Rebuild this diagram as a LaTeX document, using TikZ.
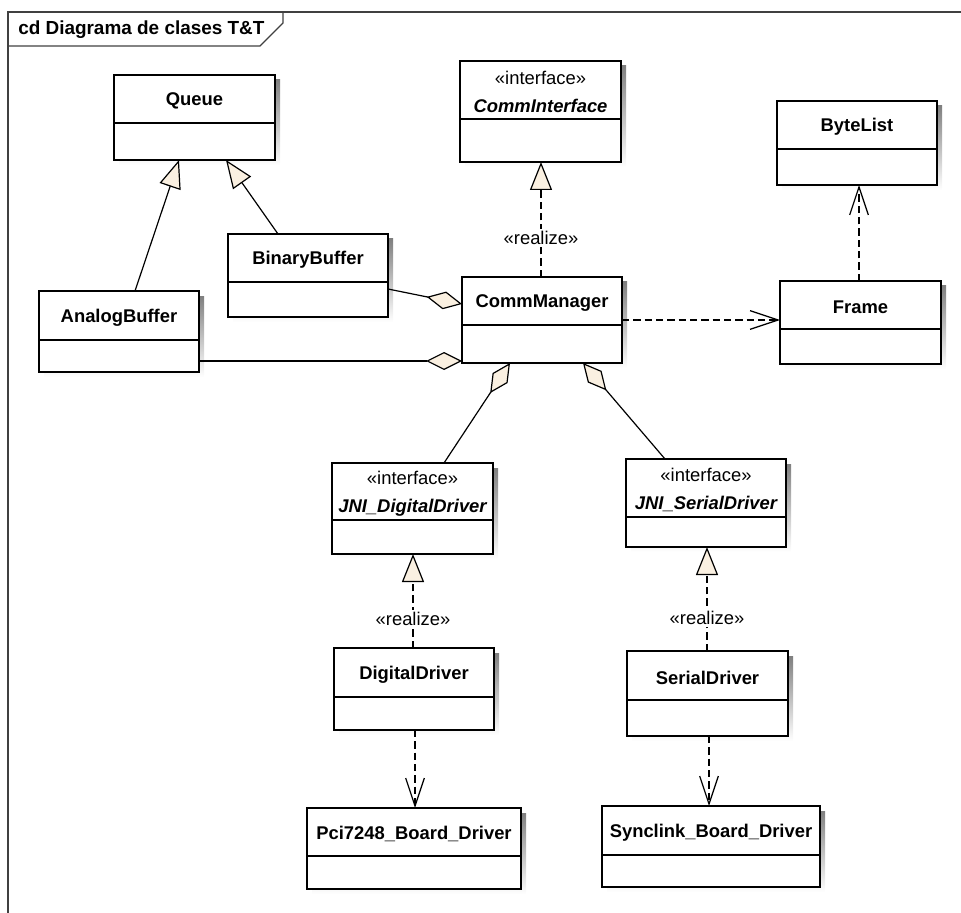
\documentclass[tikz,border=0pt]{standalone}
\usepackage{fontspec}
\setmainfont{Liberation Sans}
\usetikzlibrary{arrows.meta,fit}

\definecolor{tipfill}{HTML}{FAF0E1}
\definecolor{shade}{HTML}{C4C4C4}
\definecolor{framecol}{HTML}{404040}

\tikzset{
  classbox/.style={draw, line width=1.2pt, fill=white, inner sep=0pt, outer sep=0pt},
  classname/.style={font=\fontsize{13.8}{21}\selectfont\bfseries, inner sep=0pt, align=center},
  stereolbl/.style={font=\fontsize{13.8}{16}\selectfont, fill=white, inner sep=1.5pt},
  link/.style={line width=0.9pt},
  dashlink/.style={link, dash pattern=on 5.5pt off 3pt},
  gen/.style={link, -{Triangle[length=21pt, width=16.5pt, fill=tipfill, line width=0.9pt]}},
  realiz/.style={dashlink, -{Triangle[length=21pt, width=16.5pt, fill=tipfill, line width=0.9pt]}},
  depend/.style={dashlink, -{Straight Barb[length=21pt, width=14pt, line width=0.9pt]}},
  aggr/.style={link, {Diamond[length=27pt, width=13.5pt, fill=tipfill, line width=0.9pt]}-},
}

% #1 name, #2 x1, #3 y1, #4 x2, #5 y2, #6 y of the compartment line, #7 header text
\newcommand\umlclass[7]{%
  \fill[shade] (#2+5,#3+5) rectangle (#4+5,#5+5);
  \node[classbox, fit={(#2,#3) (#4,#5)}] (#1) {};
  \draw[line width=1.2pt] (#1.west |- 0,#6) -- (#1.east |- 0,#6);
  \node[classname] (#1-name) at ({(#2+#4)/2},{(#3+#6)/2+2}) {#7};
}
\newcommand\ifacetext[1]{{\mdseries «interface»}\\{\itshape #1}}

\begin{document}
\begin{tikzpicture}[x=0.75pt, y=-0.75pt]
  \useasboundingbox (0,0) rectangle (961,913);

  % diagram frame with its name tab
  \draw[framecol, line width=1pt] (8,913) -- (8,12) -- (961,12);
  \draw[framecol, line width=1pt] (8,46) -- (260,46) -- (283,23) -- (283,12);
  \node[font=\fontsize{14.2}{16}\selectfont\bfseries, anchor=west, inner sep=0pt] (title) at (18,30) {cd Diagrama de clases T\&T};

  % classes
  \umlclass{queue}{114}{75}{275}{160}{123}{Queue}
  \umlclass{binary}{228}{234}{388}{317}{282}{BinaryBuffer}
  \umlclass{analog}{39}{291}{199}{372}{340}{AnalogBuffer}
  \umlclass{commif}{460}{61}{621}{162}{119}{\ifacetext{CommInterface}}
  \umlclass{bytelist}{777}{101}{937}{185}{149}{ByteList}
  \umlclass{manager}{462}{277}{622}{363}{325}{CommManager}
  \umlclass{frame}{780}{281}{941}{364}{329}{Frame}
  \umlclass{jnidig}{332}{463}{493}{554}{520}{\ifacetext{JNI\_DigitalDriver}}
  \umlclass{jniser}{626}{459}{786}{547}{517}{\ifacetext{JNI\_SerialDriver}}
  \umlclass{digital}{334}{648}{494}{730}{697}{DigitalDriver}
  \umlclass{serial}{627}{651}{788}{736}{700}{SerialDriver}
  \umlclass{pci}{307}{808}{521}{889}{856}{Pci7248\_Board\_Driver}
  \umlclass{synclink}{602}{806}{820}{887}{855}{Synclink\_Board\_Driver}

  % generalizations
  \draw[gen] (135,0 |- analog.north) -- (179,0 |- queue.south);
  \draw[gen] (278,0 |- binary.north) -- (226,0 |- queue.south);

  % aggregations
  \draw[aggr] (manager.west |- 0,304) -- (binary.east |- 0,289);
  \draw[aggr] (manager.west |- 0,361) -- (analog.east |- 0,361);
  \draw[aggr] (510,0 |- manager.south) -- (444,0 |- jnidig.north);
  \draw[aggr] (583,0 |- manager.south) -- (665,0 |- jniser.north);

  % realizations
  \draw[realiz] (541,0 |- manager.north) -- (541,0 |- commif.south);
  \node[stereolbl] (rz1) at (541,238) {«realize»};
  \draw[realiz] (413,0 |- digital.north) -- (413,0 |- jnidig.south);
  \node[stereolbl] (rz2) at (413,619) {«realize»};
  \draw[realiz] (707,0 |- serial.north) -- (707,0 |- jniser.south);
  \node[stereolbl] (rz3) at (707,618) {«realize»};

  % dependencies
  \draw[depend] (manager.east |- 0,320) -- (frame.west |- 0,320);
  \draw[depend] (859,0 |- frame.north) -- (859,0 |- bytelist.south);
  \draw[depend] (415,0 |- digital.south) -- (415,0 |- pci.north);
  \draw[depend] (709,0 |- serial.south) -- (709,0 |- synclink.north);
\end{tikzpicture}
\end{document}
